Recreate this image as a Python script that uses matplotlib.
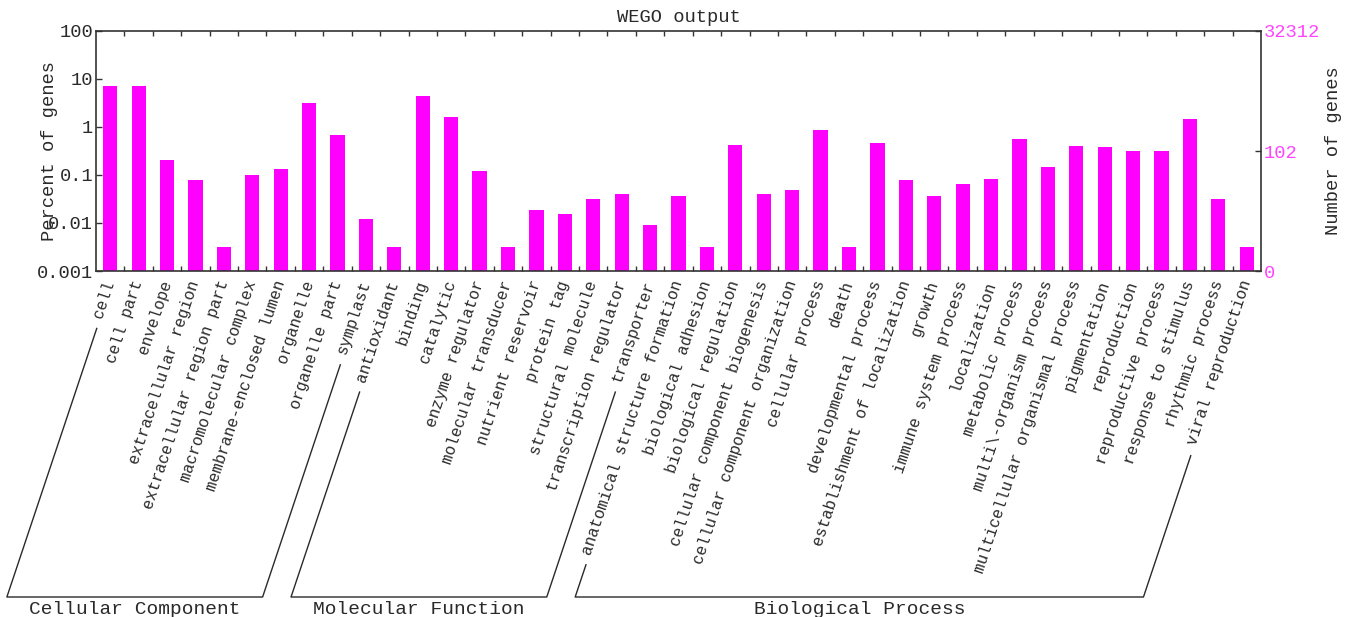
import matplotlib
matplotlib.use('Agg')
import matplotlib.pyplot as plt
from matplotlib.lines import Line2D
from matplotlib.transforms import ScaledTranslation
import numpy as np

'''###################################### DATA (read off the WEGO picture) ######################################'''

total_genes = 32312

groups = ['Cellular Component', 'Molecular Function', 'Biological Process']

cc_terms = ['cell', 'cell part', 'envelope', 'extracellular region', 'extracellular region part',
            'macromolecular complex', 'membrane-enclosed lumen', 'organelle', 'organelle part', 'symplast']
cc_counts = [2297, 2297, 66, 26, 1, 33, 44, 1015, 221, 4]

mf_terms = ['antioxidant', 'binding', 'catalytic', 'enzyme regulator', 'molecular transducer',
            'nutrient reservoir', 'protein tag', 'structural molecule', 'transcription regulator', 'transporter']
mf_counts = [1, 1421, 518, 40, 1, 6, 5, 10, 13, 3]

bp_terms = ['anatomical structure formation', 'biological adhesion', 'biological regulation',
            'cellular component biogenesis', 'cellular component organization', 'cellular process',
            'death', 'developmental process', 'establishment of localization', 'growth',
            'immune system process', 'localization', 'metabolic process', 'multi\\-organism process',
            'multicellular organismal process', 'pigmentation', 'reproduction', 'reproductive process',
            'response to stimulus', 'rhythmic process', 'viral reproduction']
bp_counts = [12, 1, 135, 13, 16, 277, 1, 148, 25, 12, 21, 27, 182, 47, 128, 124, 102, 102, 464, 10, 1]

left_ticks = [0.001, 0.01, 0.1, 1, 10, 100]
left_tick_labels = ['0.001', '0.01', '0.1', '1', '10', '100']
right_tick_counts = [0, 102, 32312]

'''###################################### PLOT ######################################'''

W, H = 1356, 617
font = 'Liberation Mono'
plt.rcParams['font.family'] = [font, 'DejaVu Sans Mono']
ink = '#2a2a2a'
magenta = '#ff00ff'

all_terms = cc_terms + mf_terms + bp_terms
all_counts = cc_counts + mf_counts + bp_counts
percent = [c / total_genes * 100 for c in all_counts]
x = np.arange(len(all_terms))

fig = plt.figure(figsize=(W / 100, H / 100), dpi=100)
ax = fig.add_axes([96 / W, 1 - 271 / H, 1165 / W, 240 / H])
ax.set_yscale('log')
ax.bar(x, percent, width=0.5, color=magenta)
ax.set_xlim(-0.5, len(all_terms) - 0.5)
ax.set_ylim(0.001, 100)

for s in ax.spines.values():
    s.set_color('#333333')
    s.set_linewidth(1.2)

ax.set_yticks(left_ticks)
ax.set_yticklabels(left_tick_labels)
ax.yaxis.set_minor_locator(matplotlib.ticker.NullLocator())
ax.tick_params(axis='y', direction='in', length=4, width=1, color='#333333',
               labelsize=13.5, labelcolor=ink, pad=2)
ax.set_xticks(x[:-1] + 0.5)
ax.set_xticklabels([])
ax.tick_params(axis='x', direction='in', length=3.5, width=1, color='#333333', top=True)

ax2 = ax.twinx()
ax2.set_yscale('log')
ax2.set_ylim(0.001, 100)
ax2.set_yticks([max(c / total_genes * 100, 0.001) for c in right_tick_counts])
ax2.set_yticklabels([str(c) for c in right_tick_counts])
ax2.yaxis.set_minor_locator(matplotlib.ticker.NullLocator())
ax2.tick_params(axis='y', direction='in', length=4, width=1, color='#333333',
                labelsize=13.5, labelcolor='#ff44ff', pad=2)
for s in ax2.spines.values():
    s.set_visible(False)

# rotated term labels under the bars
rot = 71.5
label_size = 11.5
pad_pt = 7
offset = ScaledTranslation(0, -pad_pt / 72, fig.dpi_scale_trans)
for xi, term in zip(x, all_terms):
    ax.text(xi, 0, term, transform=ax.get_xaxis_transform() + offset, rotation=rot,
            rotation_mode='anchor', ha='right', va='center', fontsize=label_size, color=ink)

fig.text(678.5 / W, 1 - 18 / H, 'WEGO output', ha='center', va='center', fontsize=13.5, color=ink)
fig.text(49 / W, 1 - 151 / H, 'Percent of genes', rotation=90, ha='center', va='center',
         fontsize=13.5, color=ink)
fig.text(1334 / W, 1 - 151 / H, 'Number of genes', rotation=90, ha='center', va='center',
         fontsize=13.5, color=ink)

# group brackets follow the direction of the labels
th = np.deg2rad(rot)
d = np.array([np.cos(th), np.sin(th)])
char_px = 0.6 * label_size * 100 / 72
y_base = H - 597
gap = 12
shift = np.array([2.5, 0])


def line_foot(i):
    anchor = ax.get_xaxis_transform().transform((x[i], 0)) - np.array([0, pad_pt * 100 / 72])
    top = anchor - (len(all_terms[i]) * char_px + gap) * d + shift
    t = (top[1] - y_base) / d[1]
    return top, top - t * d


first = 0
for name, terms in zip(groups, [cc_terms, mf_terms, bp_terms]):
    last = first + len(terms) - 1
    top_l, foot_l = line_foot(first)
    top_r, foot_r = line_foot(last)
    px = [top_l[0], foot_l[0], foot_r[0], top_r[0]]
    py = [top_l[1], foot_l[1], foot_r[1], top_r[1]]
    fig.add_artist(Line2D(np.array(px) / W, np.array(py) / H, transform=fig.transFigure,
                          color=ink, lw=1.0))
    fig.text((foot_l[0] + foot_r[0]) / 2 / W, (y_base - 13) / H, name, ha='center', va='center',
             fontsize=14, color=ink)
    first = last + 1

fig.savefig('out.png', dpi=100)
